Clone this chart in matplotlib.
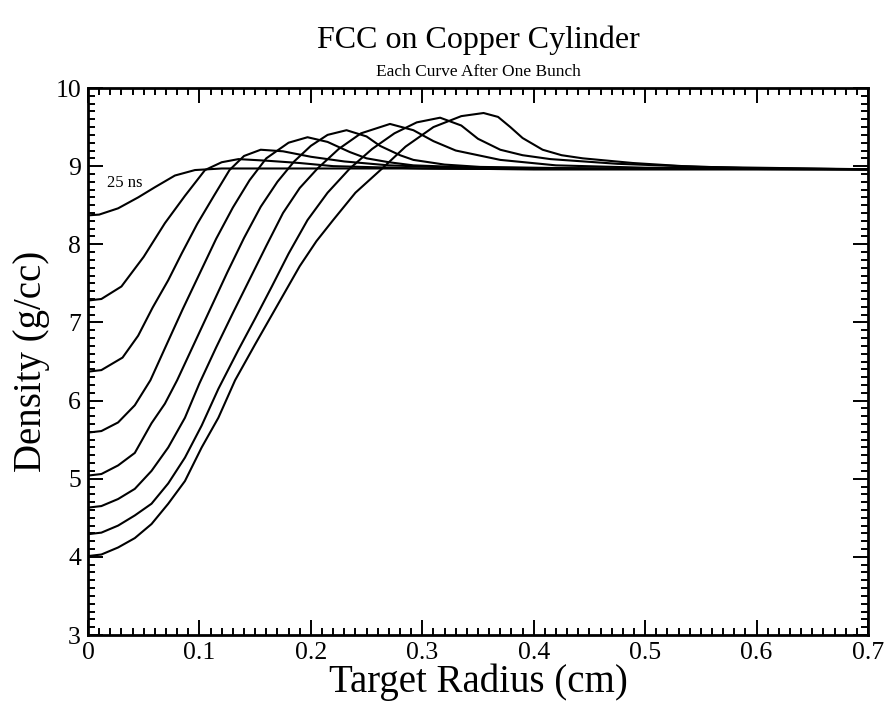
import matplotlib
matplotlib.use("Agg")
import matplotlib.pyplot as plt
from matplotlib.ticker import MultipleLocator

plt.rcParams['font.family'] = ['Liberation Serif', 'DejaVu Serif']

title = "FCC on Copper Cylinder"
subtitle = "Each Curve After One Bunch"
xlabel = "Target Radius (cm)"
ylabel = "Density (g/cc)"
annotation = "25 ns"

x1 = [0, 0.01, 0.027, 0.045, 0.06, 0.078, 0.096, 0.12, 0.2, 0.3, 0.4, 0.5, 0.6, 0.7]
y1 = [8.37, 8.38, 8.46, 8.60, 8.73, 8.88, 8.95, 8.97, 8.97, 8.97, 8.96, 8.96, 8.96, 8.96]

x2 = [0, 0.012, 0.03, 0.05, 0.069, 0.087, 0.105, 0.12, 0.135, 0.16, 0.19, 0.22, 0.3, 0.4, 0.5, 0.7]
y2 = [7.28, 7.30, 7.46, 7.84, 8.27, 8.62, 8.95, 9.05, 9.09, 9.07, 9.04, 9.00, 8.97, 8.96, 8.96, 8.96]

x3 = [0, 0.012, 0.031, 0.045, 0.058, 0.072, 0.084, 0.098, 0.113, 0.127, 0.14, 0.155, 0.175, 0.2, 0.23, 0.27, 0.33, 0.4, 0.7]
y3 = [6.37, 6.39, 6.55, 6.83, 7.19, 7.54, 7.88, 8.26, 8.62, 8.95, 9.13, 9.21, 9.19, 9.12, 9.06, 9.01, 8.98, 8.97, 8.96]

x4 = [0, 0.012, 0.027, 0.042, 0.056, 0.07, 0.085, 0.1, 0.115, 0.13, 0.145, 0.16, 0.18, 0.197, 0.215, 0.235, 0.25, 0.27, 0.292, 0.35, 0.45, 0.7]
y4 = [5.59, 5.61, 5.72, 5.94, 6.26, 6.70, 7.17, 7.62, 8.07, 8.47, 8.82, 9.10, 9.30, 9.37, 9.31, 9.18, 9.10, 9.05, 9.01, 8.98, 8.97, 8.96]

x5 = [0, 0.012, 0.027, 0.042, 0.057, 0.069, 0.08, 0.095, 0.11, 0.125, 0.14, 0.155, 0.17, 0.185, 0.2, 0.215, 0.232, 0.25, 0.262, 0.28, 0.292, 0.32, 0.352, 0.45, 0.7]
y5 = [5.04, 5.06, 5.17, 5.33, 5.71, 5.96, 6.26, 6.72, 7.18, 7.64, 8.08, 8.48, 8.80, 9.06, 9.26, 9.40, 9.46, 9.38, 9.26, 9.14, 9.08, 9.02, 8.99, 8.97, 8.96]

x6 = [0, 0.012, 0.027, 0.042, 0.057, 0.072, 0.087, 0.1, 0.115, 0.13, 0.145, 0.16, 0.175, 0.19, 0.206, 0.225, 0.245, 0.271, 0.292, 0.31, 0.33, 0.37, 0.42, 0.5, 0.7]
y6 = [4.63, 4.65, 4.74, 4.87, 5.10, 5.40, 5.78, 6.22, 6.68, 7.12, 7.55, 7.98, 8.40, 8.72, 8.97, 9.22, 9.42, 9.54, 9.46, 9.32, 9.20, 9.08, 9.01, 8.98, 8.96]

x7 = [0, 0.012, 0.027, 0.042, 0.057, 0.072, 0.087, 0.102, 0.117, 0.135, 0.15, 0.165, 0.18, 0.197, 0.215, 0.235, 0.255, 0.275, 0.295, 0.316, 0.335, 0.35, 0.37, 0.39, 0.415, 0.445, 0.475, 0.55, 0.7]
y7 = [4.29, 4.31, 4.40, 4.53, 4.68, 4.94, 5.27, 5.68, 6.15, 6.65, 7.05, 7.46, 7.88, 8.31, 8.66, 8.97, 9.22, 9.42, 9.56, 9.62, 9.52, 9.35, 9.21, 9.14, 9.09, 9.06, 9.03, 8.99, 8.96]

x8 = [0, 0.012, 0.027, 0.042, 0.057, 0.072, 0.087, 0.102, 0.117, 0.132, 0.15, 0.17, 0.19, 0.205, 0.22, 0.24, 0.264, 0.285, 0.31, 0.335, 0.355, 0.368, 0.379, 0.39, 0.408, 0.425, 0.444, 0.489, 0.534, 0.6, 0.7]
y8 = [4.01, 4.03, 4.12, 4.24, 4.42, 4.68, 4.97, 5.40, 5.78, 6.26, 6.72, 7.22, 7.72, 8.04, 8.31, 8.66, 8.97, 9.25, 9.50, 9.64, 9.68, 9.63, 9.50, 9.36, 9.21, 9.14, 9.10, 9.04, 9.00, 8.97, 8.96]

curves = [(x1, y1), (x2, y2), (x3, y3), (x4, y4), (x5, y5), (x6, y6), (x7, y7), (x8, y8)]

xticks = [0, 0.1, 0.2, 0.3, 0.4, 0.5, 0.6, 0.7]
xticklabels = ["0", "0.1", "0.2", "0.3", "0.4", "0.5", "0.6", "0.7"]
yticks = [3, 4, 5, 6, 7, 8, 9, 10]
yticklabels = ["3", "4", "5", "6", "7", "8", "9", "10"]

fig = plt.figure(figsize=(8.92, 7.04), dpi=100)
ax = fig.add_axes([88/892, 1-635/704, 780/892, 547/704])

for xs, ys in curves:
    ax.plot(xs, ys, color='black', lw=1.5, solid_joinstyle='round')

ax.set_xlim(0, 0.7)
ax.set_ylim(3, 10)
ax.xaxis.set_minor_locator(MultipleLocator(0.01))
ax.yaxis.set_minor_locator(MultipleLocator(0.1))
ax.set_xticks(xticks)
ax.set_xticklabels(xticklabels)
ax.set_yticks(yticks)
ax.set_yticklabels(yticklabels)

ax.tick_params(which='both', direction='in', top=True, right=True, width=1.4, color='black')
ax.tick_params(which='major', length=11, labelsize=18.5, pad=5)
ax.tick_params(which='minor', length=5)
for s in ax.spines.values():
    s.set_linewidth(2)

ax.set_xlabel(xlabel, fontsize=28, labelpad=0)
ax.set_ylabel(ylabel, fontsize=28, labelpad=4)

fig.text(0.5 * (88 + 868) / 892, 1 - 40/704, title, ha='center', va='center', fontsize=23)
fig.text(0.5 * (88 + 868) / 892, 1 - 72/704, subtitle, ha='center', va='center', fontsize=12.5)

ax.text(0.017, 8.78, annotation, fontsize=12, ha='left', va='center')

fig.savefig("out.png", dpi=100)
